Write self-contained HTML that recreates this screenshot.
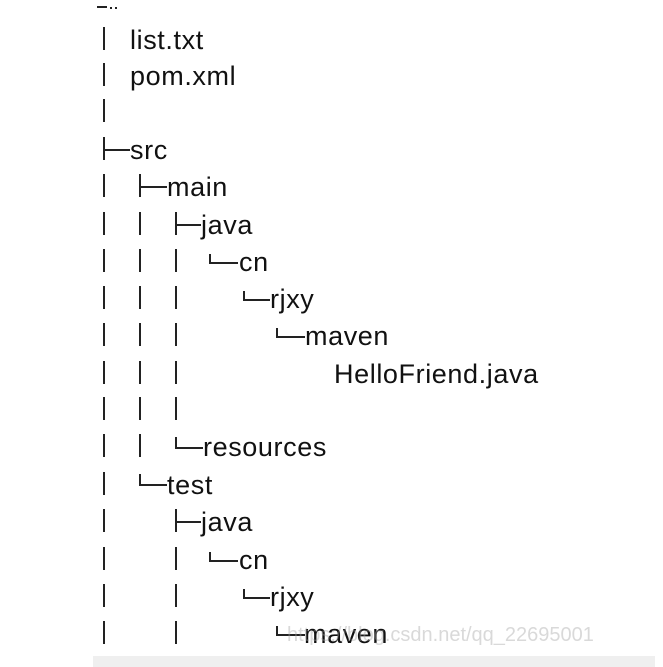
<!DOCTYPE html>
<html><head><meta charset="utf-8"><style>
body{margin:0;width:663px;height:667px;background:#fff;position:relative;overflow:hidden;font-family:"Liberation Sans",sans-serif}
.t{position:absolute;font-size:27px;line-height:30px;color:#111;white-space:nowrap;letter-spacing:0.6px}
.v{position:absolute;width:2px;background:#222}
.h{position:absolute;height:2px;background:#222}
</style></head><body>
<div class="h" style="left:97px;top:6px;width:10px"></div>
<div class="h" style="left:110px;top:7px;width:2px"></div><div class="h" style="left:115px;top:7px;width:2px"></div>

<div class="t" style="left:130px;top:25px">list.txt</div>
<div class="t" style="left:130px;top:61px">pom.xml</div>
<div class="t" style="left:130px;top:135px">src</div>
<div class="t" style="left:167px;top:172px">main</div>
<div class="t" style="left:201px;top:210px">java</div>
<div class="t" style="left:239px;top:247px">cn</div>
<div class="t" style="left:270px;top:284px">rjxy</div>
<div class="t" style="left:305px;top:321px">maven</div>
<div class="t" style="left:334px;top:359px">HelloFriend.java</div>
<div class="t" style="left:203px;top:432px">resources</div>
<div class="t" style="left:167px;top:470px">test</div>
<div class="t" style="left:201px;top:507px">java</div>
<div class="t" style="left:239px;top:545px">cn</div>
<div class="t" style="left:270px;top:582px">rjxy</div>
<div class="t" style="left:304px;top:619px">maven</div>

<div class="v" style="left:103px;top:27px;height:23px"></div>
<div class="v" style="left:103px;top:63px;height:23px"></div>
<div class="v" style="left:103px;top:99px;height:23px"></div>
<div class="v" style="left:103px;top:137px;height:23px"></div><div class="h" style="left:103px;top:149px;width:27px"></div>
<div class="v" style="left:103px;top:174px;height:23px"></div>
<div class="v" style="left:103px;top:212px;height:23px"></div>
<div class="v" style="left:103px;top:249px;height:23px"></div>
<div class="v" style="left:103px;top:286px;height:23px"></div>
<div class="v" style="left:103px;top:323px;height:23px"></div>
<div class="v" style="left:103px;top:361px;height:23px"></div>
<div class="v" style="left:103px;top:397px;height:23px"></div>
<div class="v" style="left:103px;top:434px;height:23px"></div>
<div class="v" style="left:103px;top:472px;height:23px"></div>
<div class="v" style="left:103px;top:509px;height:23px"></div>
<div class="v" style="left:103px;top:547px;height:23px"></div>
<div class="v" style="left:103px;top:584px;height:23px"></div>
<div class="v" style="left:103px;top:621px;height:23px"></div>

<div class="v" style="left:139px;top:174px;height:23px"></div><div class="h" style="left:139px;top:186px;width:28px"></div>
<div class="v" style="left:139px;top:212px;height:23px"></div>
<div class="v" style="left:139px;top:249px;height:23px"></div>
<div class="v" style="left:139px;top:286px;height:23px"></div>
<div class="v" style="left:139px;top:323px;height:23px"></div>
<div class="v" style="left:139px;top:361px;height:23px"></div>
<div class="v" style="left:139px;top:397px;height:23px"></div>
<div class="v" style="left:139px;top:434px;height:23px"></div>
<div class="v" style="left:139px;top:474px;height:11px"></div><div class="h" style="left:139px;top:484px;width:28px"></div>

<div class="v" style="left:175px;top:212px;height:23px"></div><div class="h" style="left:175px;top:224px;width:26px"></div>
<div class="v" style="left:175px;top:249px;height:23px"></div>
<div class="v" style="left:175px;top:286px;height:23px"></div>
<div class="v" style="left:175px;top:323px;height:23px"></div>
<div class="v" style="left:175px;top:361px;height:23px"></div>
<div class="v" style="left:175px;top:397px;height:23px"></div>
<div class="v" style="left:175px;top:437px;height:11px"></div><div class="h" style="left:175px;top:447px;width:28px"></div>
<div class="v" style="left:175px;top:509px;height:23px"></div><div class="h" style="left:175px;top:521px;width:26px"></div>
<div class="v" style="left:175px;top:547px;height:23px"></div>
<div class="v" style="left:175px;top:584px;height:23px"></div>
<div class="v" style="left:175px;top:621px;height:23px"></div>

<div class="v" style="left:209px;top:254px;height:10px"></div><div class="h" style="left:209px;top:262px;width:29px"></div>
<div class="v" style="left:243px;top:291px;height:10px"></div><div class="h" style="left:243px;top:299px;width:27px"></div>
<div class="v" style="left:276px;top:328px;height:10px"></div><div class="h" style="left:276px;top:336px;width:29px"></div>
<div class="v" style="left:209px;top:552px;height:10px"></div><div class="h" style="left:209px;top:560px;width:29px"></div>
<div class="v" style="left:243px;top:589px;height:10px"></div><div class="h" style="left:243px;top:597px;width:27px"></div>
<div class="v" style="left:276px;top:626px;height:10px"></div><div class="h" style="left:276px;top:634px;width:29px"></div>

<div class="t" style="left:287px;top:622px;font-size:20px;line-height:26px;letter-spacing:0;color:rgba(160,160,160,0.4)">https://blog.csdn.net/qq_22695001</div>
<div style="position:absolute;left:93px;top:656px;width:562px;height:11px;background:#efefef"></div>
</body></html>
